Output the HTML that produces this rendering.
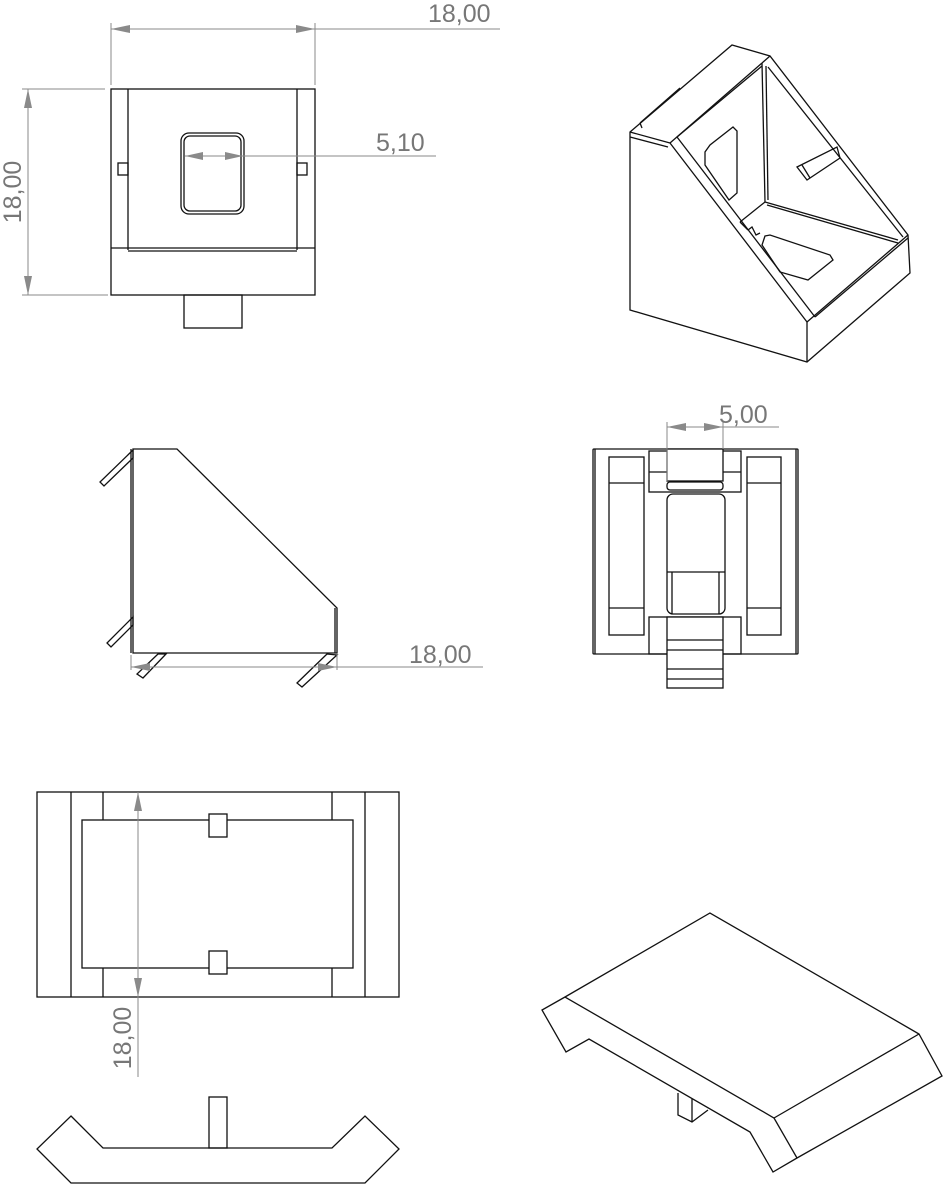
<!DOCTYPE html>
<html><head><meta charset="utf-8"><style>
html,body{margin:0;padding:0;background:#fff;}
svg{display:block;}
.k{stroke:#111;fill:none;stroke-width:1.3;}
.d{stroke:#8a8a8a;fill:none;stroke-width:1;}
.t{font-family:"Liberation Sans",sans-serif;font-size:25px;fill:#777;}
.a{fill:#8a8a8a;}
</style></head><body>
<svg width="947" height="1200" viewBox="0 0 947 1200" xmlns="http://www.w3.org/2000/svg">
<!-- TOP LEFT VIEW -->
<g class="k">
<rect x="111" y="89" width="204" height="206"/>
<line x1="128" y1="89" x2="128" y2="250"/><line x1="297" y1="89" x2="297" y2="250"/>
<line x1="111" y1="248" x2="315" y2="248"/><line x1="128" y1="251" x2="297" y2="251"/>
<rect x="181" y="133" width="63" height="81" rx="8"/>
<rect x="184" y="136" width="57" height="75" rx="6"/>
<rect x="118" y="163" width="10" height="12"/><rect x="297" y="163" width="10" height="12"/>
<rect x="184" y="295" width="58" height="33"/>
</g>
<g class="d">
<line x1="111" y1="23" x2="111" y2="85"/><line x1="315" y1="23" x2="315" y2="85"/>
<line x1="111" y1="29" x2="500" y2="29"/>
<line x1="22" y1="89" x2="105" y2="89"/><line x1="22" y1="295" x2="108" y2="295"/>
<line x1="28" y1="89" x2="28" y2="295"/>
<line x1="185" y1="156" x2="436" y2="156"/>
</g>
<g class="a">
<polygon points="111,29 130,25 130,33"/><polygon points="315,29 296,25 296,33"/>
<polygon points="28,89 24,108 32,108"/><polygon points="28,295 24,276 32,276"/>
<polygon points="185,156 203,152 203,160"/><polygon points="243,156 225,152 225,160"/>
</g>
<text class="t" x="428" y="22">18,00</text>
<text class="t" x="376" y="151">5,10</text>
<text class="t" transform="translate(21,192) rotate(-90)" text-anchor="middle">18,00</text>

<!-- TOP RIGHT ISO -->
<g class="k">
<polygon points="630,132 732,45 770,56 908,235 910,273 807,362 630,310"/>
<line x1="630" y1="132" x2="670" y2="143"/>
<line x1="630" y1="137" x2="668" y2="147"/>
<line x1="670" y1="143" x2="807" y2="322"/>
<line x1="677" y1="137" x2="815" y2="317"/>
<line x1="807" y1="322" x2="807" y2="362"/>
<line x1="670" y1="143" x2="762" y2="63"/>
<line x1="677" y1="137" x2="762" y2="66"/>
<line x1="770" y1="56" x2="762" y2="63"/>
<line x1="762" y1="63" x2="765" y2="202"/>
<line x1="766" y1="66" x2="768" y2="200"/>
<line x1="768" y1="67" x2="903" y2="237"/>
<line x1="765" y1="202" x2="898" y2="240"/>
<line x1="767" y1="205" x2="898" y2="243"/>
<line x1="765" y1="202" x2="740" y2="222"/>
<line x1="740" y1="222" x2="748" y2="230"/>
<polyline points="748,230 752,227 756,235 760,233"/>
<line x1="807" y1="322" x2="908" y2="235"/>
<line x1="815" y1="317" x2="908" y2="238"/>
<line x1="640" y1="123" x2="642" y2="128"/>
<line x1="640" y1="123" x2="680" y2="88"/>
<polygon points="733,127 737,131 737,193 729,200 705,165 705,152 710,145"/>
<polygon points="765,236 770,235 830,255 833,260 808,280 780,272 762,245"/>
<polygon points="797,167 837,147 840,158 807,180"/>
<line x1="802" y1="165" x2="810" y2="178"/>
</g>

<!-- MIDDLE LEFT SIDE VIEW -->
<g class="k">
<polygon points="133,449 177,449 337,608 337,653 133,653"/>
<line x1="131" y1="449" x2="131" y2="653"/>
<line x1="335" y1="608" x2="335" y2="653"/>
<polygon points="133,450 100,482 104,486 133,458"/>
<polygon points="133,617 107,643 111,647 133,625"/>
<polygon points="158,654 137,674 143,678 166,654"/>
<polygon points="327,654 297,683 302,687 337,655"/>
</g>
<g class="d">
<line x1="131" y1="655" x2="131" y2="670"/><line x1="337" y1="655" x2="337" y2="670"/>
<line x1="131" y1="667" x2="483" y2="667"/>
</g>
<g class="a"><polygon points="131,667 150,663 150,671"/><polygon points="337,667 318,663 318,671"/></g>
<text class="t" x="409" y="663">18,00</text>

<!-- MIDDLE RIGHT VIEW -->
<g class="k">
<rect x="593" y="449" width="205" height="205" rx="1"/>
<line x1="595" y1="449" x2="595" y2="654"/><line x1="796" y1="449" x2="796" y2="654"/>
<rect x="609" y="457" width="35" height="178"/><line x1="609" y1="483" x2="644" y2="483"/><line x1="609" y1="608" x2="644" y2="608"/>
<rect x="747" y="457" width="34" height="178"/><line x1="747" y1="483" x2="781" y2="483"/><line x1="747" y1="608" x2="781" y2="608"/>
<rect x="649" y="451" width="92" height="41"/><line x1="649" y1="472" x2="741" y2="472"/>
<rect x="667" y="449" width="56" height="32" fill="#fff"/>
<rect x="667" y="482" width="56" height="8" rx="3"/>
<rect x="667" y="494" width="58" height="120" rx="6"/>
<line x1="667" y1="572" x2="725" y2="572"/>
<line x1="672" y1="572" x2="672" y2="614"/><line x1="719" y1="572" x2="719" y2="614"/>
<rect x="649" y="617" width="92" height="37"/>
<rect x="667" y="617" width="56" height="71" fill="#fff"/>
<line x1="667" y1="640" x2="723" y2="640"/><line x1="667" y1="650" x2="723" y2="650"/>
<line x1="667" y1="669" x2="723" y2="669"/><line x1="667" y1="679" x2="723" y2="679"/>
</g>
<g class="d">
<line x1="667" y1="422" x2="667" y2="481"/><line x1="723" y1="422" x2="723" y2="449"/>
<line x1="667" y1="427" x2="779" y2="427"/>
</g>
<g class="a"><polygon points="667,427 686,423 686,431"/><polygon points="723,427 704,423 704,431"/></g>
<text class="t" x="719" y="423">5,00</text>

<!-- BOTTOM LEFT -->
<g class="k">
<rect x="37" y="792" width="362" height="205"/>
<line x1="71" y1="792" x2="71" y2="997"/><line x1="103" y1="792" x2="103" y2="997"/>
<line x1="332" y1="792" x2="332" y2="997"/><line x1="365" y1="792" x2="365" y2="997"/>
<rect x="82" y="820" width="271" height="148" fill="#fff"/>
<rect x="209" y="814" width="18" height="23" fill="#fff"/>
<rect x="209" y="951" width="18" height="23" fill="#fff"/>
<polygon points="71,1116 103,1148 332,1148 365,1116 399,1149 365,1183 71,1183 37,1149"/>
<rect x="209" y="1097" width="18" height="51"/>
</g>
<g class="d"><line x1="138" y1="792" x2="138" y2="1077"/></g>
<g class="a"><polygon points="138,792 134,811 142,811"/><polygon points="138,997 134,978 142,978"/></g>
<text class="t" transform="translate(131,1038) rotate(-90)" text-anchor="middle">18,00</text>

<!-- BOTTOM RIGHT ISO -->
<g class="k">
<polygon points="710,913 919,1034 942,1076 797,1158 773,1172 750,1132 589,1039 566,1052 542,1010 565,997"/>
<line x1="565" y1="997" x2="774" y2="1118"/>
<line x1="774" y1="1118" x2="919" y2="1034"/>
<line x1="774" y1="1118" x2="797" y2="1158"/>
<polyline points="678,1093 678,1115 692,1122 708,1110"/>
<line x1="692" y1="1099" x2="692" y2="1122"/>
</g>
</svg>
</body></html>
